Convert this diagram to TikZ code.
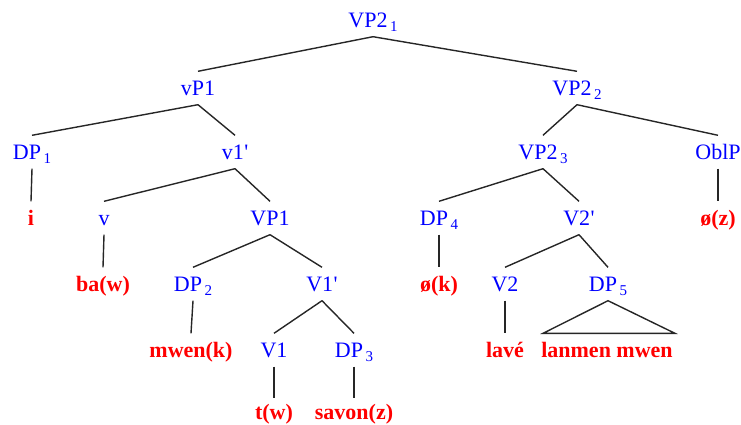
\documentclass[tikz,border=0pt]{standalone}
\usepackage{fontspec}
\setmainfont{Liberation Serif}
\definecolor{nodeblue}{RGB}{0,0,255}
\definecolor{wordred}{RGB}{255,0,0}
\newcommand{\sbx}[1]{\kern2.5pt\raisebox{-4.5pt}{\fontsize{15}{15}\selectfont #1}}
\newcommand{\prm}{\kern0.5pt\textquotesingle}
\tikzset{
  lbl/.style={inner xsep=0pt, inner ysep=0pt, minimum height=33pt, text height=14.6pt, text depth=0pt, font=\fontsize{22}{22}\selectfont},
  cat/.style={lbl, text=nodeblue},
  word/.style={lbl, text=wordred, font=\fontsize{22}{22}\selectfont\bfseries},
  edge/.style={draw=black!85, line width=1.4pt}
}
\begin{document}
\begin{tikzpicture}[x=1pt,y=-1pt]
\useasboundingbox (0,0) rectangle (741,425);
% categories
\node[cat] (vp21) at (373,20) {VP2\sbx{1}};
\node[cat] (vp1s) at (198,88) {vP1};
\node[cat] (vp22) at (577,88) {VP2\sbx{2}};
\node[cat] (dp1) at (32,152) {DP\sbx{1}};
\node[cat] (vbar) at (235,152) {v1\prm};
\node[cat] (vp23) at (543,152) {VP2\sbx{3}};
\node[cat] (oblp) at (718,152) {OblP};
\node[cat] (vsm) at (104,218) {v};
\node[cat] (vpone) at (270,218) {VP1};
\node[cat] (dp4) at (439,218) {DP\sbx{4}};
\node[cat] (v2bar) at (579,218) {V2\prm};
\node[cat] (dp2) at (193,284) {DP\sbx{2}};
\node[cat] (v1bar) at (322,284) {V1\prm};
\node[cat] (vtwo) at (505,284) {V2};
\node[cat] (dp5) at (608,284) {DP\sbx{5}};
\node[cat] (vone) at (274,350) {V1};
\node[cat] (dp3) at (354,350) {DP\sbx{3}};
% words
\node[word] (wi) at (31,218) {i};
\node[word] (woz) at (718,218) {ø(z)};
\node[word] (wba) at (103,284) {ba(w)};
\node[word] (wok) at (439,284) {ø(k)};
\node[word] (wmwen) at (191,350) {mwen(k)};
\node[word] (wlave) at (505,350) {lavé};
\node[word] (wlanmen) at (607,350) {lanmen mwen};
\node[word, minimum height=27pt] (wtw) at (274,412) {t(w)};
\node[word, minimum height=27pt] (wsavon) at (354,412) {savon(z)};
% edges
\draw[edge] (vp21.south) -- (vp1s.north);
\draw[edge] (vp21.south) -- (vp22.north);
\draw[edge] (vp1s.south) -- (dp1.north);
\draw[edge] (vp1s.south) -- (vbar.north);
\draw[edge] (dp1.south) -- (wi.north);
\draw[edge] (vbar.south) -- (vsm.north);
\draw[edge] (vbar.south) -- (vpone.north);
\draw[edge] (vsm.south) -- (wba.north);
\draw[edge] (vpone.south) -- (dp2.north);
\draw[edge] (vpone.south) -- (v1bar.north);
\draw[edge] (dp2.south) -- (wmwen.north);
\draw[edge] (v1bar.south) -- (vone.north);
\draw[edge] (v1bar.south) -- (dp3.north);
\draw[edge] (vone.south) -- (wtw.north);
\draw[edge] (dp3.south) -- (wsavon.north);
\draw[edge] (vp22.south) -- (vp23.north);
\draw[edge] (vp22.south) -- (oblp.north);
\draw[edge] (oblp.south) -- (woz.north);
\draw[edge] (vp23.south) -- (dp4.north);
\draw[edge] (vp23.south) -- (v2bar.north);
\draw[edge] (dp4.south) -- (wok.north);
\draw[edge] (v2bar.south) -- (vtwo.north);
\draw[edge] (v2bar.south) -- (dp5.north);
\draw[edge] (vtwo.south) -- (wlave.north);
\draw[edge, line join=miter] (dp5.south) -- ([xshift=2pt]wlanmen.north west) -- ([xshift=2pt]wlanmen.north east) -- cycle;
\end{tikzpicture}
\end{document}
